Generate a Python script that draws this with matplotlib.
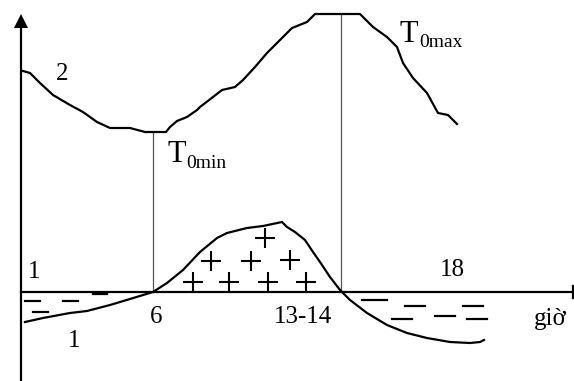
import matplotlib
matplotlib.use("Agg")
import matplotlib.pyplot as plt

# Sơ đồ biến trình ngày: x ~ thời gian, y ~ nhiệt độ / cán cân bức xạ (đơn vị tuỳ ý)
plt.rcParams['font.family'] = ['Liberation Serif', 'DejaVu Serif']

# đường 2: nhiệt độ
x2 = [2, 9, 19, 32, 49, 62, 76, 89, 109, 124, 145, 149, 156, 166, 176, 179, 192,
      201, 214, 222, 234, 246, 259, 271, 286, 294, 339, 352, 366, 376, 382, 392,
      406, 417, 427, 436]
y2 = [221, 219, 209, 197, 187, 180, 170, 164, 164, 160, 160, 165, 171, 175, 182,
      185, 195, 202, 205, 212, 225, 239, 252, 264, 270, 278, 278, 265, 255, 245,
      229, 214, 199, 179, 177, 168]

# đường 1: cán cân bức xạ
x1 = [4, 22, 49, 66, 89, 109, 132, 146, 162, 179, 196, 206, 226, 242, 261, 266,
      274, 284, 292, 299, 309, 319, 329, 346, 366, 386, 406, 429, 449, 459, 463]
y1 = [-30, -26, -21, -19, -13, -7, 0, 9, 22, 40, 54, 59, 64, 66, 70, 65,
      60, 52, 40, 30, 15, 2, -8, -21, -33, -41, -46, -50, -51, -50, -48]

# thời điểm T0min, T0max
t_min_x, t_min_y = 132, 160
t_max_x, t_max_y = 320, 278

# dấu + (vùng dương) và dấu - (vùng âm)
plus_x = [244, 190, 230, 269, 172, 208, 247, 285]
plus_y = [54, 31, 31, 32, 10, 10, 10, 10]
minus_x = [11, 49, 19, 79, 353, 394, 381, 424, 452, 456]
minus_y = [-9, -9, -20, -2, -8, -14, -27, -24, -14, -27]
minus_w = [15, 15, 15, 14, 25, 20, 20, 20, 20, 20]

fig = plt.figure(figsize=(5.74, 3.81), dpi=100)
ax = fig.add_axes([0, 0, 1, 1])
ax.set_xlim(-21, 553)
ax.set_ylim(-89, 292)
ax.axis('off')

# trục
ax.plot([0, 0], [-89, 266], color='black', lw=1.6)
ax.fill([-7, 7, 0], [264, 264, 278], color='black', lw=0)
ax.plot([0, 552], [0, 0], color='black', lw=1.6)
ax.plot([552, 552], [-6, 6], color='black', lw=1.6)

# đường dóng
ax.plot([t_min_x, t_min_x], [0, t_min_y], color='#555555', lw=0.9)
ax.plot([t_max_x, t_max_x], [0, t_max_y], color='#555555', lw=0.9)

ax.plot(x2, y2, color='black', lw=1.6)
ax.plot(x1, y1, color='black', lw=1.6)

ax.plot(plus_x, plus_y, ls='none', marker='+', ms=15, mew=1.5, color='black')
for mx, my, mw in zip(minus_x, minus_y, minus_w):
    ax.plot([mx - mw / 2, mx + mw / 2], [my, my], color='black', lw=1.6)

fs = 18
ax.text(41, 218, '2', fontsize=fs, ha='center', va='center')
ax.text(13, 20, '1', fontsize=fs, ha='center', va='center')
ax.text(53, -49, '1', fontsize=fs, ha='center', va='center')
ax.text(135, -25, '6', fontsize=fs, ha='center', va='center')
ax.text(282, -25, '13-14', fontsize=fs, ha='center', va='center')
ax.text(431, 22, '18', fontsize=fs, ha='center', va='center')
ax.text(529, -33, 'giờ', fontsize=fs, ha='center', va='baseline')

ax.text(379, 250, 'T', fontsize=22, ha='left', va='baseline')
ax.text(398, 245, '0max', fontsize=14, ha='left', va='baseline')
ax.text(146, 130, 'T', fontsize=22, ha='left', va='baseline')
ax.text(165, 124, '0min', fontsize=14, ha='left', va='baseline')

fig.savefig('out.png', dpi=100)
